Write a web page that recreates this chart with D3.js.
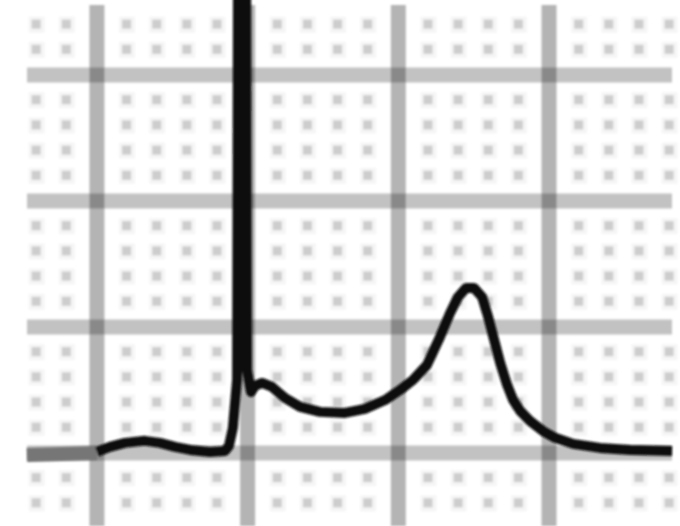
<!DOCTYPE html>
<html>
<head>
  <meta charset="utf-8">
  <title>ECG strip</title>
  <script src="https://cdn.jsdelivr.net/npm/d3@7"></script>
  <style>
    html, body { margin: 0; padding: 0; background: #fff; }
    svg { display: block; }
  </style>
</head>
<body>
<script>
  // grid units: x = small boxes (time), y = small boxes (0.1 mV)
  const majorX = [0, 5, 10, 15];
  const majorY = [0, 5, 10, 15];

  // lead-in before the first major line (drawn grey)
  const leadT = [-2.32, 0];
  const leadV = [-0.08, 0];

  // the beat: P wave, QRS spike, ST segment, T wave
  const traceT = [0, 0.43, 0.93, 1.59, 2.09, 2.59, 3.09, 3.75, 4.25, 4.38, 4.51, 4.65, 4.68, 4.95,
    4.98, 5.11, 5.24, 5.48, 5.81, 6.24, 6.74, 7.40, 8.23, 8.89, 9.56, 10.06, 10.49, 10.95, 11.38,
    11.72, 11.98, 12.25, 12.51, 12.78, 12.98, 13.18, 13.38, 13.61, 13.81, 14.04, 14.37, 14.80,
    15.20, 15.80, 16.69, 17.69, 19.08];
  const traceV = [0.04, 0.24, 0.40, 0.48, 0.40, 0.24, 0.12, 0.04, 0.08, 0.28, 0.99, 2.90, 18.6, 18.6,
    3.29, 2.42, 2.66, 2.78, 2.62, 2.18, 1.83, 1.63, 1.59, 1.75, 2.10, 2.50, 2.90, 3.49, 4.60,
    5.56, 6.19, 6.55, 6.55, 6.19, 5.40, 4.48, 3.57, 2.70, 2.10, 1.67, 1.27, 0.87,
    0.60, 0.36, 0.20, 0.12, 0.08];

  const W = 680, H = 526;

  const x = d3.scaleLinear().domain([-2.32, 19.08]).range([27, 672]);
  const y = d3.scaleLinear().domain([-2.9, 17.78]).range([526, 5]);

  const svg = d3.select("body").append("svg")
    .attr("width", W)
    .attr("height", H);

  const defs = svg.append("defs");
  defs.append("filter").attr("id", "soft")
    .append("feGaussianBlur").attr("stdDeviation", 1.2);

  const grid = svg.append("g").attr("filter", "url(#soft)");

  // minor dots, 4 between every pair of major lines
  const minorX = d3.range(-2, 20).filter(d => d % 5 !== 0 && x(d) < 676);
  const minorY = d3.range(-2, 18).filter(d => d % 5 !== 0);

  const dots = [];
  minorX.forEach(a => minorY.forEach(b => dots.push([a, b])));

  grid.selectAll("rect.halo")
    .data(dots)
    .enter()
    .append("rect")
    .attr("class", "halo")
    .attr("x", d => x(d[0]) - 8)
    .attr("y", d => y(d[1]) - 8)
    .attr("width", 16)
    .attr("height", 16)
    .attr("fill", "#f5f5f5");

  grid.selectAll("rect.dot")
    .data(dots)
    .enter()
    .append("rect")
    .attr("class", "dot")
    .attr("x", d => x(d[0]) - 5)
    .attr("y", d => y(d[1]) - 5)
    .attr("width", 9)
    .attr("height", 9)
    .attr("fill", "#cdcdcd");

  // major lines, multiplied so crossings come out darker
  grid.selectAll("line.vx")
    .data(majorX)
    .enter()
    .append("line")
    .attr("x1", d => x(d))
    .attr("x2", d => x(d))
    .attr("y1", y.range()[1])
    .attr("y2", y.range()[0])
    .attr("stroke", "#b4b4b4")
    .attr("stroke-width", 15)
    .style("mix-blend-mode", "multiply");

  grid.selectAll("line.hy")
    .data(majorY)
    .enter()
    .append("line")
    .attr("x1", x.range()[0])
    .attr("x2", x.range()[1])
    .attr("y1", d => y(d))
    .attr("y2", d => y(d))
    .attr("stroke", "#c2c2c2")
    .attr("stroke-width", 15)
    .style("mix-blend-mode", "multiply");

  const line = d3.line()
    .x(d => x(d[0]))
    .y(d => y(d[1]));

  const trace = svg.append("g").attr("filter", "url(#soft)");

  trace.append("path")
    .datum(d3.zip(leadT, leadV))
    .attr("d", line)
    .attr("fill", "none")
    .attr("stroke", "#767676")
    .attr("stroke-width", 14);

  trace.append("path")
    .datum(d3.zip(traceT, traceV))
    .attr("d", line)
    .attr("fill", "none")
    .attr("stroke", "#111")
    .attr("stroke-width", 10)
    .attr("stroke-linejoin", "round")
    .attr("stroke-linecap", "butt");
</script>
</body>
</html>
